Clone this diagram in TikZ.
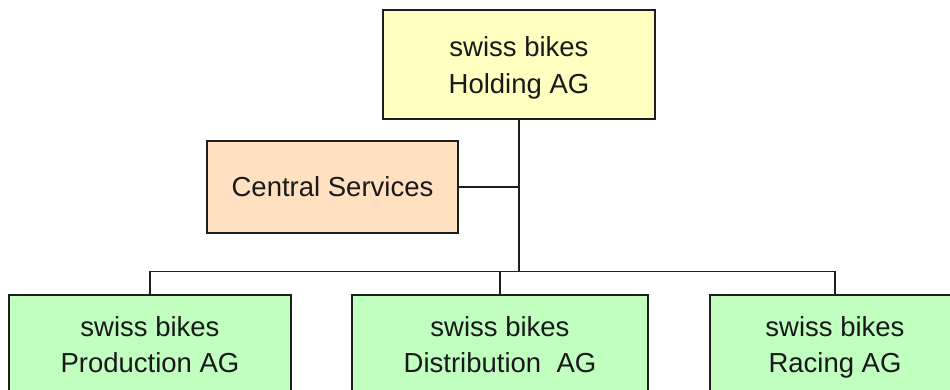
\documentclass[tikz,border=0pt]{standalone}
\usepackage{fontspec}
\setmainfont{Liberation Sans}
\definecolor{boxyellow}{RGB}{255,255,192}
\definecolor{boxpeach}{RGB}{255,224,192}
\definecolor{boxgreen}{RGB}{192,255,192}
\definecolor{edgec}{RGB}{30,30,30}
\tikzset{
  orgbox/.style={draw=edgec, line width=1.3pt, rectangle, inner sep=0pt, align=center,
    font=\fontsize{27.5}{36.6}\selectfont, text=black!90},
  twoline/.style={text depth=6pt},
  link/.style={draw=edgec, line width=1.2pt}
}
\begin{document}
\begin{tikzpicture}[x=1pt,y=-1pt]
\useasboundingbox (0,0) rectangle (950,390);
\fill[white] (0,0) rectangle (950,390);
\begin{scope}
\clip (0,0) rectangle (950,390);
\node[orgbox, twoline, text height=63.6pt, fill=boxyellow, minimum width=272pt, minimum height=109pt] (hold) at (519,64.5) {swiss bikes\\Holding AG};
\node[orgbox, fill=boxpeach, minimum width=251pt, minimum height=92pt] (cs) at (332.5,187) {Central Services};
\node[orgbox, twoline, fill=boxgreen, minimum width=282pt, minimum height=105pt] (prod) at (150,347.5) {swiss bikes\\Production AG};
\node[orgbox, twoline, fill=boxgreen, minimum width=296pt, minimum height=105pt] (dist) at (500,347.5) {swiss bikes\\Distribution~~AG};
\node[orgbox, twoline, fill=boxgreen, minimum width=250pt, minimum height=105pt] (race) at (835,347.5) {swiss bikes\\Racing AG};
\coordinate (bus) at (519,271.5);
\draw[link] (hold.south) -- (bus);
\draw[link] (cs.east) -- (cs.east -| hold.south);
\draw[link] (prod.north) -- (prod.north |- bus) -- (race.north |- bus) -- (race.north);
\draw[link] (dist.north) -- (dist.north |- bus);
\end{scope}
\end{tikzpicture}
\end{document}
